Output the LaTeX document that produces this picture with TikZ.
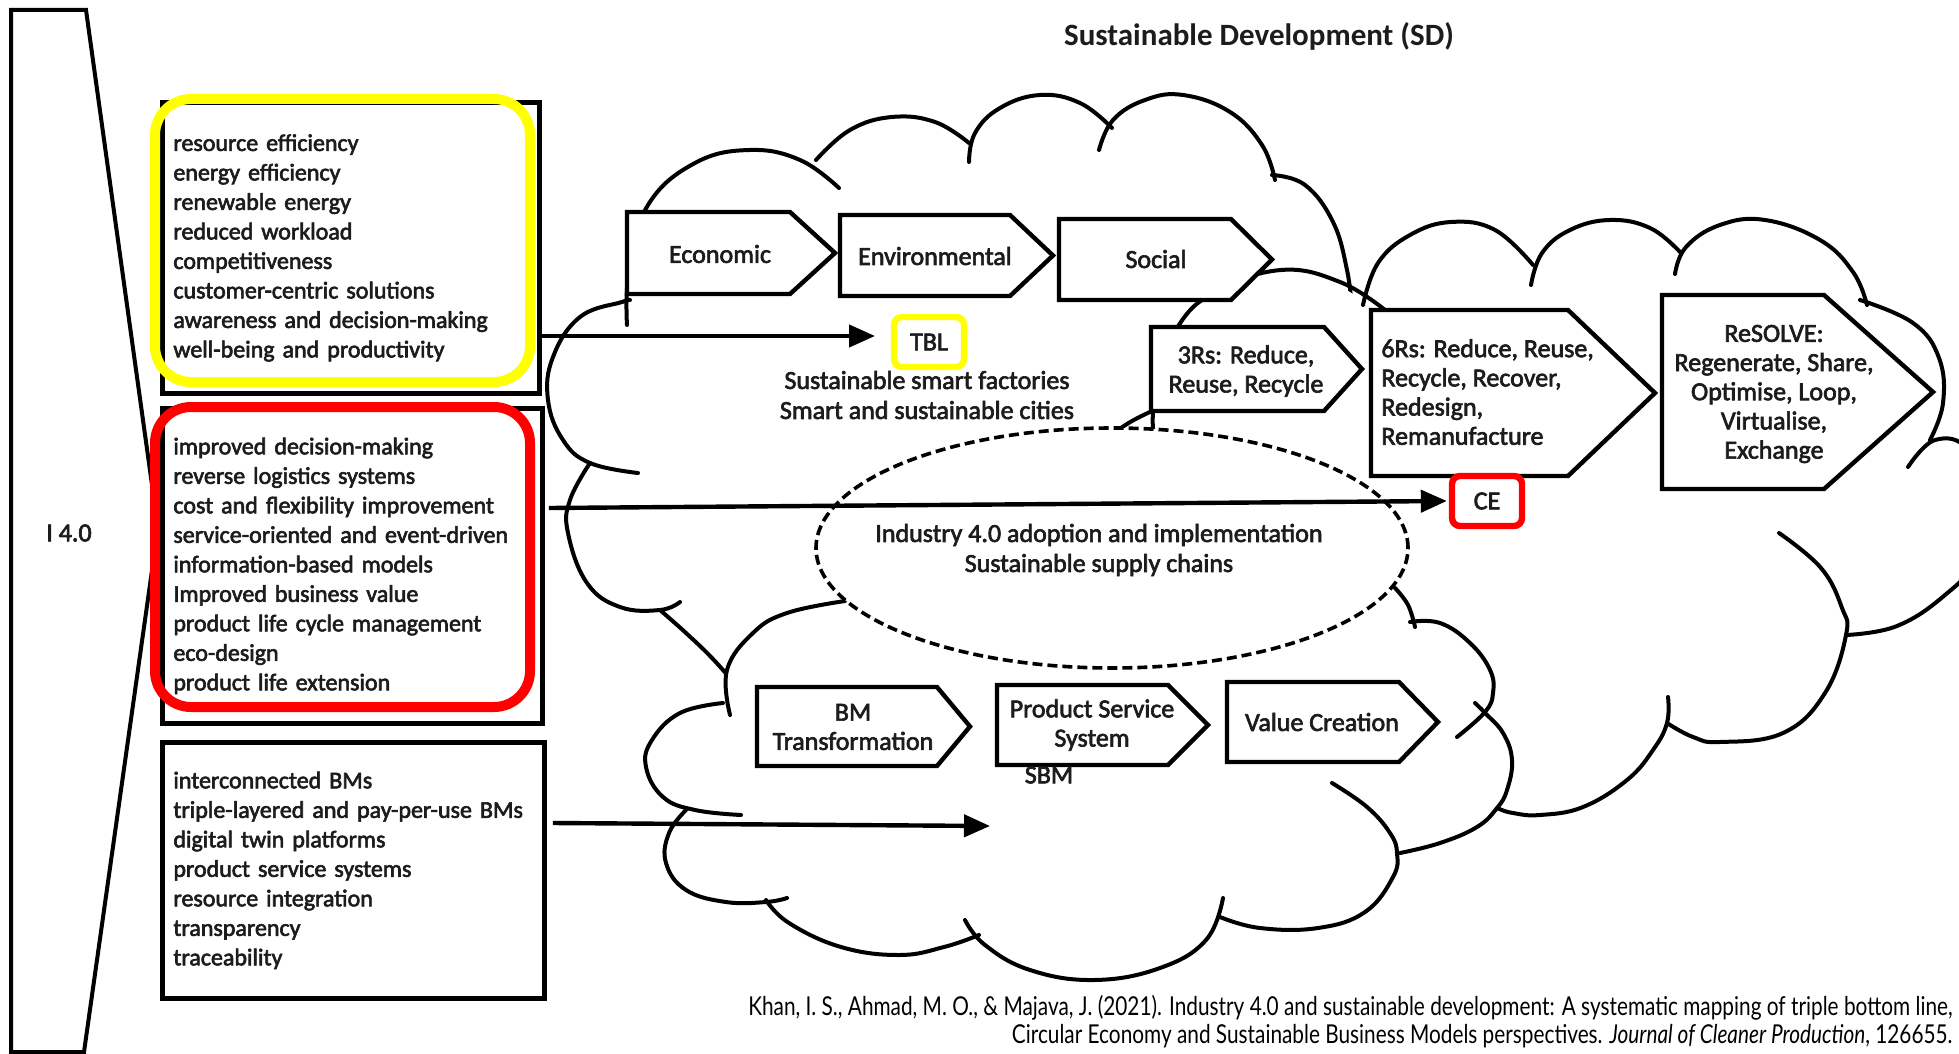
\documentclass[tikz,border=0pt]{standalone}
\usepackage{fontspec}
\setmainfont{Carlito}
\newfontfamily\dgm{Carlito}[FakeBold=2.5]
\newfontfamily\citefont[FakeStretch=0.8]{Lato}
\usetikzlibrary{arrows.meta,shapes.geometric}
\definecolor{hlyellow}{HTML}{FFFF00}
\definecolor{hlred}{HTML}{FF0000}
\definecolor{ink}{HTML}{1C1C1C}
\newcommand{\chevshape}[5]{\draw[chev] (#1,#2) -- (#3,#2) -- (#4,{(#2+#5)/2}) -- (#3,#5) -- (#1,#5) -- cycle;}
\begin{document}
\begin{tikzpicture}[x=0.5pt,y=-0.5pt,
  cloudline/.style={line width=2pt, line cap=round, line join=round},
  chev/.style={draw, fill=white, line width=2.2pt, line join=miter},
  listbox/.style={draw, line width=2.4pt, anchor=north west, align=left, inner xsep=5.5pt, text=ink,
     font=\dgm\fontsize{12}{14.75}\selectfont},
  lbl/.style={font=\dgm\fontsize{13}{14.6}\selectfont, align=center, inner sep=0pt, text=ink},
  arr/.style={line width=2.2pt, -{Triangle[length=13pt,width=11pt]}},
  hilite/.style={rounded corners=18pt, line width=5pt},
  tag/.style={font=\dgm\fontsize{13}{14.6}\selectfont, text=ink, rounded corners=4pt, line width=3.2pt,
     minimum width=35pt, minimum height=25pt, inner sep=0pt},
]
\useasboundingbox (0,0) rectangle (1959,1054);
\fill[white] (0,0) rectangle (1959,1054);

% ---------- left side: I 4.0 ----------
\draw[line width=2pt, line join=miter] (11,10) -- (86,10) -- (158,528) -- (84,1052) -- (11,1052) -- cycle;
\node[lbl] (i40) at (69,533) {I 4.0};

\node[listbox, minimum width=188.5pt, minimum height=145.5pt, text width=177.5pt] (box1) at (160,100)
 {resource efficiency\\energy efficiency\\renewable energy\\reduced workload\\competitiveness\\customer-centric solutions\\awareness and decision-making\\well-being and productivity};
\node[listbox, minimum width=190pt, minimum height=157.5pt, text width=179pt] (box2) at (160,406)
 {improved decision-making\\reverse logistics systems\\cost and flexibility improvement\\service-oriented and event-driven\\information-based models\\Improved business value\\product life cycle management\\eco-design\\product life extension};
\node[listbox, minimum width=191pt, minimum height=128pt, text width=180pt] (box3) at (160,740)
 {interconnected BMs\\triple-layered and pay-per-use BMs\\digital twin platforms\\product service systems\\resource integration\\transparency\\traceability};

\draw[hilite, hlyellow] (155,99) rectangle (530,382);
\draw[hilite, hlred] (155,407) rectangle (530,707);

% ---------- cloud A (TBL) ----------
\draw[cloudline] plot[smooth, tension=0.7] coordinates {(735,684) (712,658) (686,633) (660,610)};
\draw[cloudline] plot[smooth, tension=0.7] coordinates {(680,602) (660,610) (620,607) (587,583) (568,533) (570,500) (590,463)};
\draw[cloudline] plot[smooth, tension=0.7] coordinates {(638,473) (590,463) (563,440) (548,400) (553,357) (580,317) (622,302) (630,300)};
\draw[cloudline] plot[smooth, tension=0.7] coordinates {(627,325) (629,270) (648,205) (695,163) (750,150) (800,160) (839,188)};
\draw[cloudline] plot[smooth, tension=0.7] coordinates {(816,160) (850,130) (892,117) (935,122) (969,143)};
\draw[cloudline] plot[smooth, tension=0.7] coordinates {(969,162) (975,133) (1000,108) (1040,95) (1080,103) (1112,128)};
\draw[cloudline] plot[smooth, tension=0.7] coordinates {(1099,150) (1113,120) (1145,100) (1183,95) (1230,112) (1262,145) (1275,180)};
\draw[cloudline] plot[smooth, tension=0.7] coordinates {(1272,175) (1305,185) (1333,222) (1347,270) (1352,310)};

% ---------- cloud B (CE) ----------
\fill[white] (1114,432) -- (1150,417) -- (1160,380) -- (1175,328) -- (1210,290) -- (1250,272) -- (1281,270)
  -- (1330,280) -- (1363,300) -- (1380,262) -- (1410,235) -- (1451,222) -- (1495,230) -- (1533,263)
  -- (1570,230) -- (1610,220) -- (1650,228) -- (1680,252) -- (1720,225) -- (1765,220) -- (1820,240)
  -- (1865,300) -- (1913,323) -- (1939,358) -- (1943,403) -- (1935,440) -- (1959,470) -- (1959,560)
  -- (1939,595) -- (1897,626) -- (1846,635) -- (1825,693) -- (1783,733) -- (1720,742) -- (1667,723)
  -- (1653,750) -- (1627,780) -- (1583,807) -- (1540,815) -- (1497,808) -- (1450,700) -- (1370,580)
  -- (1150,440) -- cycle;
\draw[cloudline] plot[smooth, tension=0.7] coordinates {(1110,436) (1132,421) (1165,405)};
\draw[cloudline] plot[smooth, tension=0.7] coordinates {(1153,432) (1156,385) (1177,328) (1215,292) (1281,270) (1340,282) (1385,310)};
\draw[cloudline] plot[smooth, tension=0.7] coordinates {(1363,305) (1378,263) (1410,235) (1451,222) (1495,230) (1533,265)};
\draw[cloudline] plot[smooth, tension=0.7] coordinates {(1531,285) (1542,253) (1570,230) (1610,220) (1650,228) (1680,252)};
\draw[cloudline] plot[smooth, tension=0.7] coordinates {(1675,274) (1686,247) (1720,225) (1765,220) (1820,240) (1853,272) (1867,305)};
\draw[cloudline] plot[smooth, tension=0.7] coordinates {(1860,300) (1913,323) (1939,358) (1943,403) (1930,440)};
\draw[cloudline] plot[smooth, tension=0.7] coordinates {(1908,467) (1935,440) (1968,450) (1985,505) (1975,560) (1945,595) (1897,626) (1846,635)};
\draw[cloudline] plot[smooth, tension=0.7] coordinates {(1779,533) (1821,568) (1842,608) (1846,635) (1825,693) (1783,733) (1720,742) (1693,737) (1667,723)};
\draw[cloudline] plot[smooth, tension=0.7] coordinates {(1668,697) (1667,723) (1653,750) (1627,780) (1583,807) (1540,815) (1513,813) (1497,808) (1480,800)};

% ---------- cloud C (SBM) ----------
\fill[white] (840,602) -- (1000,640) -- (1395,588) -- (1410,610) -- (1440,623) -- (1470,643) -- (1490,670)
  -- (1493,693) -- (1485,712) -- (1503,733) -- (1512,760) -- (1507,790) -- (1497,808) -- (1477,827)
  -- (1440,843) -- (1400,853) -- (1393,877) -- (1365,912) -- (1318,928) -- (1260,928) -- (1220,917)
  -- (1206,940) -- (1160,968) -- (1094,980) -- (1030,970) -- (985,945) -- (970,935) -- (944,947)
  -- (899,955) -- (841,947) -- (789,923) -- (766,902) -- (726,902) -- (686,890) -- (666,863)
  -- (669,833) -- (686,810) -- (663,797) -- (646,767) -- (652,740) -- (680,713) -- (723,703)
  -- (727,670) -- (753,633) -- (787,613) -- cycle;
\draw[cloudline] plot[smooth, tension=0.7] coordinates {(845,601) (787,613) (753,633) (727,670) (730,715)};
\draw[cloudline] plot[smooth, tension=0.7] coordinates {(723,703) (680,713) (652,740) (646,767) (663,797) (695,810) (741,815)};
\draw[cloudline] plot[smooth, tension=0.7] coordinates {(686,810) (669,833) (666,863) (686,890) (726,902) (766,902) (787,898)};
\draw[cloudline] plot[smooth, tension=0.7] coordinates {(766,900) (789,923) (841,947) (899,955) (944,947) (979,935)};
\draw[cloudline] plot[smooth, tension=0.7] coordinates {(965,920) (985,945) (1030,970) (1094,980) (1160,968) (1206,940) (1223,898)};
\draw[cloudline] plot[smooth, tension=0.7] coordinates {(1220,917) (1260,928) (1318,928) (1365,912) (1393,877) (1397,853) (1390,833) (1367,807) (1332,783)};
\draw[cloudline] plot[smooth, tension=0.7] coordinates {(1400,853) (1440,843) (1477,827) (1497,808) (1507,790) (1512,760) (1503,733) (1485,713) (1475,703)};
\draw[cloudline] plot[smooth, tension=0.7] coordinates {(1410,622) (1440,623) (1470,643) (1490,670) (1493,693) (1485,712) (1457,737)};
\draw[cloudline] plot[smooth, tension=0.7] coordinates {(1395,588) (1408,605) (1415,627)};

% ---------- dashed ellipse ----------
\node[ellipse, draw, fill=white, line width=1.8pt, dash pattern=on 5pt off 2.5pt,
      minimum width=296pt, minimum height=120pt, inner sep=0pt] (ell) at (1112,548) {};
\node[lbl, font=\dgm\fontsize{13}{15}\selectfont] (indtxt) at (1099,550)
  {Industry 4.0 adoption and implementation\\Sustainable supply chains};

% ---------- chevrons ----------
\chevshape{627}{212}{790}{835}{294}
\node[lbl] (econ) at (720,254) {Economic};
\chevshape{840}{215}{1010}{1053}{296}
\node[lbl] (envi) at (935,256) {Environmental};
\chevshape{1059}{219}{1231}{1272}{300}
\node[lbl] (soc) at (1156,259) {Social};
\chevshape{1151}{327}{1324}{1362}{411}
\node[lbl] (r3) at (1246,371) {3Rs: Reduce,\\Reuse, Recycle};
\chevshape{1371}{310}{1568}{1655}{476}
\node[lbl, align=left, anchor=west] (r6) at (1381,392) {6Rs: Reduce, Reuse,\\Recycle, Recover,\\Redesign,\\Remanufacture};
\chevshape{1662}{295}{1824}{1933}{489}
\node[lbl] (resolve) at (1774,394) {ReSOLVE:\\Regenerate, Share,\\Optimise, Loop,\\Virtualise,\\Exchange};
\chevshape{757}{687}{937}{970}{766}
\node[lbl] (bmt) at (853,727) {BM\\Transformation};
\chevshape{997}{685}{1168}{1208}{765}
\node[lbl] (pss) at (1092,725) {Product Service\\System};
\chevshape{1227}{682}{1399}{1438}{762}
\node[lbl] (vc) at (1322,722) {Value Creation};
\node[lbl] (sbm) at (1049,775) {SBM};

% ---------- TBL / CE ----------
\node[tag, draw=hlyellow] (tbl) at (929,342) {TBL};
\node[lbl, font=\dgm\fontsize{13}{15}\selectfont] (ssf) at (927,395) {Sustainable smart factories\\Smart and sustainable cities};
\node[tag, draw=hlred] (ce) at (1487,501) {CE};

% ---------- arrows ----------
\coordinate (t1) at (875,336);
\draw[arr] (box1.east |- t1) -- (t1);
\coordinate (a2) at (0,508);
\draw[arr] ([xshift=2pt]box2.east |- a2) -- ([xshift=-1pt]ce.west);
\coordinate (a3) at (0,823);
\coordinate (t3) at (990,826);
\draw[arr] ([xshift=3pt]box3.east |- a3) -- (t3);

% ---------- title & citation ----------
\node[font=\bfseries\fontsize{15.5}{18}\selectfont, text=ink] (title) at (1259,36) {Sustainable Development (SD)};
\node[anchor=base east, font=\citefont\fontsize{13}{14}\selectfont, inner sep=0pt] (cite1) at (1953,1015)
  {Khan, I. S., Ahmad, M. O., \& Majava, J. (2021). Industry 4.0 and sustainable development: A systematic mapping of triple bottom line,};
\node[anchor=base east, font=\citefont\fontsize{13}{14}\selectfont, inner sep=0pt] (cite2) at (1953,1043)
  {Circular Economy and Sustainable Business Models perspectives. \textit{Journal of Cleaner Production}, 126655.};
\end{tikzpicture}
\end{document}
